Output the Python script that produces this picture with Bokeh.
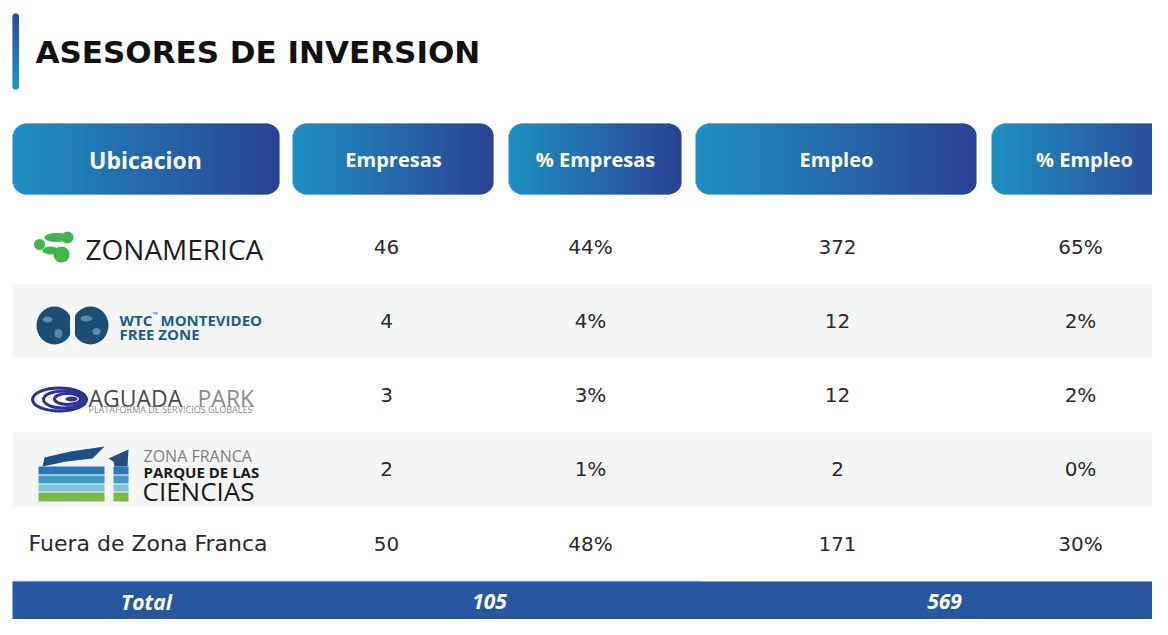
import math
from bokeh.plotting import figure
from bokeh.models import Range1d
from bokeh.core.properties import value
from bokeh.embed import file_html
from bokeh.resources import INLINE

# ---------------- data ----------------
title = "ASESORES DE INVERSION"
headers = ["Ubicacion", "Empresas", "% Empresas", "Empleo", "% Empleo"]
ubicaciones = ["ZONAMERICA", "WTC MONTEVIDEO FREE ZONE", "AGUADA PARK",
               "ZONA FRANCA PARQUE DE LAS CIENCIAS", "Fuera de Zona Franca"]
empresas = [46, 4, 3, 2, 50]
pct_empresas = [44, 4, 3, 1, 48]
empleo = [372, 12, 12, 2, 171]
pct_empleo = [65, 2, 2, 0, 30]
total_label = "Total"
total_empresas = 105
total_empleo = 569

# ---------------- layout ----------------
W, H = 1152, 619
p = figure(width=W, height=H, x_range=Range1d(0, W), y_range=Range1d(H, 0),
           output_backend="svg", toolbar_location=None, min_border=0,
           x_axis_location=None, y_axis_location=None)
p.grid.visible = False
p.outline_line_color = None
p.background_fill_color = "white"
p.border_fill_color = "white"

FONT = value("Open Sans")
NUMFONT = value("DejaVu Sans")

def hexc(c):
    return "#%02x%02x%02x" % tuple(int(round(v)) for v in c)

def lerp(c0, c1, t):
    return hexc([a + (b - a) * t for a, b in zip(c0, c1)])

def hgrad_box(x0, x1, y0, y1, r, c0, c1):
    L, R, T, B, C = [], [], [], [], []
    n = int(math.ceil(x1 - x0))
    for i in range(n):
        xa = x0 + i
        xm = xa + 0.5
        d = min(xm - x0, x1 - xm)
        inset = r - math.sqrt(max(r * r - (r - d) ** 2, 0)) if d < r else 0
        L.append(xa); R.append(min(xa + 1.6, x1))
        T.append(y0 + inset); B.append(y1 - inset)
        C.append(lerp(c0, c1, (xm - x0) / (x1 - x0)))
    p.quad(left=L, right=R, top=T, bottom=B, fill_color=C, line_color=None)

def vgrad_box(x0, x1, y0, y1, r, c0, c1):
    L, R, T, B, C = [], [], [], [], []
    n = int(math.ceil(y1 - y0))
    for i in range(n):
        ya = y0 + i
        ym = ya + 0.5
        d = min(ym - y0, y1 - ym)
        inset = r - math.sqrt(max(r * r - (r - d) ** 2, 0)) if d < r else 0
        T.append(ya); B.append(min(ya + 1.6, y1))
        L.append(x0 + inset); R.append(x1 - inset)
        C.append(lerp(c0, c1, (ym - y0) / (y1 - y0)))
    p.quad(left=L, right=R, top=T, bottom=B, fill_color=C, line_color=None)

# title bar + title
vgrad_box(12, 18.5, 13, 89, 3, (44, 72, 152), (31, 152, 204))
p.text(x=[35], y=[51], text=[title], text_font=value("DejaVu Sans"), text_font_style="bold",
       text_font_size="31px", text_baseline="middle", text_color="#111111")

# header boxes
C0, C1 = (31, 144, 193), (43, 66, 148)
boxes = [(12, 279), (292, 493), (508, 681), (695, 976), (991, 1182)]
hcent = [145, 393, 595, 836, 1084]
hsize = ["23px", "20px", "20px", "20px", "20px"]
for (bx0, bx1), hx, hs, h in zip(boxes, hcent, hsize, headers):
    hgrad_box(bx0, bx1, 123, 194, 14, C0, C1)
    p.text(x=[hx], y=[159], text=[h], text_font=FONT, text_font_style="bold",
           text_font_size=hs, text_baseline="middle", text_align="center", text_color="white")

# row bands
row_y = [246, 320, 394, 468, 543]
p.quad(left=[12, 12], right=[1170, 1170], top=[284, 432], bottom=[357, 506],
       fill_color="#f4f6f6", line_color=None)

# values
col_x = [386, 590, 837, 1080]
cols = [[str(v) for v in empresas], ["%d%%" % v for v in pct_empresas],
        [str(v) for v in empleo], ["%d%%" % v for v in pct_empleo]]
for cx, vals in zip(col_x, cols):
    p.text(x=[cx] * len(vals), y=row_y, text=vals, text_font=NUMFONT, text_font_size="20px",
           text_baseline="middle", text_align="center", text_color="#2a2a2a")

# ---- logos ----
# ZONAMERICA
G = "#3db64b"
p.circle(x=[39], y=[244], radius=5.5, fill_color=G, line_color=None)
p.ellipse(x=[56], y=[237], width=[24], height=[9], fill_color=G, line_color=None)
p.circle(x=[67], y=[237], radius=6, fill_color=G, line_color=None)
p.ellipse(x=[50], y=[250], width=[16], height=[8], fill_color=G, line_color=None)
p.circle(x=[61], y=[254], radius=8, fill_color=G, line_color=None)
p.text(x=[85], y=[248], text=[ubicaciones[0]], text_font=FONT, text_font_size="28px",
       text_baseline="middle", text_color="#1e1e1e")

# WTC
NV = "#1c4e74"
p.ellipse(x=[54, 90], y=[325, 325], width=[36, 36], height=[38, 38], fill_color=NV, line_color=None)
p.ellipse(x=[72], y=[325], width=[5], height=[42], fill_color="white", line_color=None)
p.ellipse(x=[47, 86], y=[319, 318], width=[10, 12], height=[6, 6], fill_color="#5f87a6", line_color=None)
p.ellipse(x=[58, 96], y=[333, 331], width=[8, 8], height=[9, 7], fill_color="#5f87a6", line_color=None)
p.text(x=[119], y=[319], text=["WTC"], text_font=FONT, text_font_style="bold",
       text_font_size="15px", text_baseline="middle", text_color="#1f5d86")
p.text(x=[152], y=[314], text=["™"], text_font=FONT, text_font_size="7px",
       text_baseline="middle", text_color="#1f5d86")
p.text(x=[160], y=[319], text=["MONTEVIDEO"], text_font=FONT, text_font_style="bold",
       text_font_size="15px", text_baseline="middle", text_color="#1f5d86")
p.text(x=[119], y=[333], text=["FREE ZONE"], text_font=FONT, text_font_style="bold",
       text_font_size="15px", text_baseline="middle", text_color="#1f5d86")

# AGUADA PARK
AP = "#2e3192"
p.ellipse(x=[59, 63, 67], y=[399, 399, 398.5], width=[54, 40, 26], height=[23, 17, 11],
          fill_color=None, line_color=AP, line_width=3)
p.ellipse(x=[71], y=[398.5], width=[12], height=[5], fill_color=AP, line_color=None)
p.text(x=[88], y=[397], text=["AGUADA"], text_font=FONT, text_font_size="23px",
       text_baseline="middle", text_color="#4a4a4a")
p.text(x=[197], y=[397], text=["PARK"], text_font=FONT, text_font_size="23px",
       text_baseline="middle", text_color="#8c8c8c")
p.text(x=[88], y=[409], text=["PLATAFORMA DE SERVICIOS GLOBALES"], text_font=FONT,
       text_font_size="9px", text_baseline="middle", text_color="#8c8c8c")

# PARQUE DE LAS CIENCIAS
p.patch(x=[42, 44, 70, 104, 92, 66, 42], y=[466, 457, 451, 446, 458, 461, 466],
        fill_color="#1f4f86", line_color=None)
p.patch(x=[108, 128, 127, 114, 113], y=[458, 449, 466, 466, 461],
        fill_color="#1f4f86", line_color=None)
stripe_cols = ["#2a78b5", "#3f9bc4", "#7cc4d6", "#7bb84a"]
stripe_top = [466, 475, 484, 492]
stripe_bot = [474, 483, 491, 501]
p.quad(left=[38] * 4, right=[104] * 4, top=stripe_top, bottom=stripe_bot,
       fill_color=stripe_cols, line_color=None)
p.quad(left=[113] * 4, right=[128] * 4, top=stripe_top, bottom=stripe_bot,
       fill_color=stripe_cols, line_color=None)
p.text(x=[143], y=[455], text=["ZONA FRANCA"], text_font=FONT, text_font_size="16px",
       text_baseline="middle", text_color="#808080")
p.text(x=[143], y=[471], text=["PARQUE DE LAS"], text_font=FONT, text_font_style="bold",
       text_font_size="15px", text_baseline="middle", text_color="#1a1a1a")
p.text(x=[142], y=[490], text=["CIENCIAS"], text_font=FONT, text_font_size="26px",
       text_baseline="middle", text_color="#1a1a1a")

# Fuera de Zona Franca
p.text(x=[28], y=[row_y[4]], text=[ubicaciones[4]], text_font=NUMFONT, text_font_size="22px",
       text_baseline="middle", text_color="#2a2a2a")

# total row
p.line(x=[12, 700], y=[580.5, 580.5], line_color="#c9d6ea", line_width=1)
p.quad(left=[12], right=[1170], top=[581], bottom=[640], fill_color="#2857a0", line_color=None)
p.text(x=[146, 489, 944], y=[601, 601, 601],
       text=[total_label, str(total_empresas), str(total_empleo)],
       text_font=FONT, text_font_style="bold italic", text_font_size="21px",
       text_baseline="middle", text_align="center", text_color="white")

open("out.html", "w").write(file_html(p, INLINE))
